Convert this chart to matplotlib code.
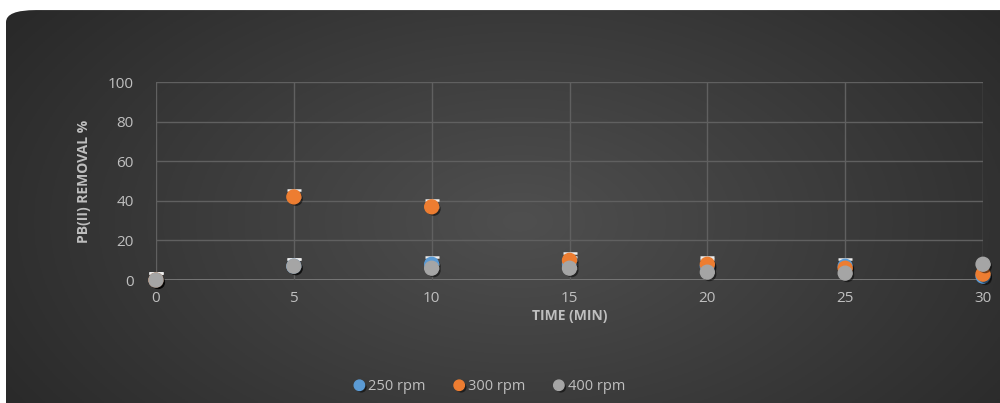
import numpy as np
import matplotlib
matplotlib.use("Agg")
import matplotlib.pyplot as plt
from matplotlib.patches import FancyBboxPatch
import matplotlib.patheffects as pe

# Sampling times (min)
time_min = [0, 5, 10, 15, 20, 25, 30]

# Pb(II) removal % at each stirring speed
removal_250 = [0, 7, 8, 8, 7, 7, 2]
removal_300 = [0, 42, 37, 10, 8, 6, 3]
removal_400 = [0, 7, 6, 6, 4, 3.5, 8]

# Positive error bars (upper side only)
err_250 = [3.5, 3.5, 3.5, 3.5, 3.5, 3.5, 0]
err_300 = [3.5, 3.5, 3.5, 3.5, 3.5, 0, 0]
err_400 = [3.5, 3.5, 0, 0, 0, 0, 0]

series_names = ["250 rpm", "300 rpm", "400 rpm"]
series_colors = ["#5B9BD5", "#ED7D31", "#A5A5A5"]

x_ticks = [0, 5, 10, 15, 20, 25, 30]
y_ticks = [0, 20, 40, 60, 80, 100]

plt.rcParams['font.family'] = ['Open Sans', 'DejaVu Sans']

fig = plt.figure(figsize=(10, 4.03), dpi=100)
fig.patch.set_facecolor("white")

# Dark gradient chart card with a rounded corner
bg = fig.add_axes([0, 0, 1, 1], zorder=-10)
bg.set_xlim(0, 1)
bg.set_ylim(0, 1)
bg.axis("off")
gx, gy = np.meshgrid(np.linspace(0, 1, 400), np.linspace(0, 1, 200))
dist = np.sqrt(((gx - 0.52) / 0.62) ** 2 + ((gy - 0.45) / 0.9) ** 2)
shade = np.clip(0.31 - 0.15 * dist, 0.15, 0.31)
img = np.dstack([shade, shade, shade])
card = FancyBboxPatch((0.006, -0.2), 1.2, 1.175, boxstyle="round,pad=0,rounding_size=0.03",
                      transform=bg.transAxes, facecolor="none", edgecolor="none")
bg.add_patch(card)
im = bg.imshow(img, extent=[0, 1, 0, 1], origin="lower", aspect="auto")
im.set_clip_path(card)

ax = fig.add_axes([0.156, 0.305, 0.827, 0.4915])
ax.set_facecolor("none")
ax.set_xlim(0, 30)
ax.set_ylim(0, 100)
ax.set_xticks(x_ticks)
ax.set_yticks(y_ticks)
ax.grid(True, color="#606060", linewidth=1.0)
for s in ax.spines.values():
    s.set_visible(False)
ax.axhline(0, color="#808080", linewidth=1.3, zorder=1)
ax.axvline(0, color="#808080", linewidth=1.3, zorder=1)
ax.tick_params(length=0, colors="#bfbfbf", labelsize=11)
ax.tick_params(axis="y", pad=16)
ax.tick_params(axis="x", pad=8)

shadow = [pe.SimplePatchShadow(offset=(1.5, -1.5), shadow_rgbFace="black", alpha=0.5), pe.Normal()]
data = [(removal_250, err_250), (removal_300, err_300), (removal_400, err_400)]
for (vals, errs), name, col in zip(data, series_names, series_colors):
    ax.errorbar(time_min, vals, yerr=[np.zeros(len(errs)), errs], fmt="none", ecolor="#eeeeee",
                elinewidth=1, capsize=5, capthick=1.8, zorder=3, clip_on=False)
    ax.plot(time_min, vals, linestyle="none", marker="o", markersize=10, color=col,
            markeredgecolor=col, label=name, zorder=4, clip_on=False, path_effects=shadow)

ax.set_xlabel("TIME (MIN)", color="#bfbfbf", fontsize=10, fontweight="bold", labelpad=2)
ax.set_ylabel("PB(II) REMOVAL %", color="#bfbfbf", fontsize=10, fontweight="bold",
              fontstretch="condensed", labelpad=12)

leg = fig.legend(loc="center", bbox_to_anchor=(0.49, 0.04), ncol=3, frameon=False,
                 handlelength=0.6, handletextpad=0.3, columnspacing=2.0, fontsize=10.5,
                 labelcolor="#bfbfbf", markerscale=0.75)

fig.savefig("out.png", dpi=100, facecolor=fig.get_facecolor())
